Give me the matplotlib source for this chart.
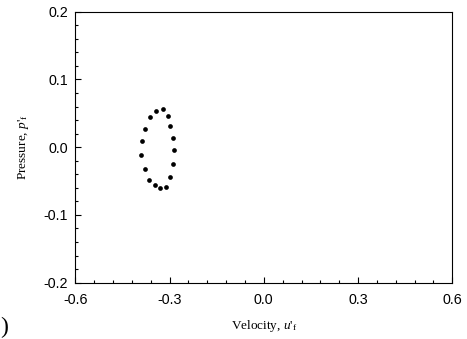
import matplotlib
matplotlib.use("Agg")
import matplotlib.pyplot as plt
from matplotlib.ticker import MultipleLocator

# phase portrait points
velocity = [-0.321, -0.343, -0.362, -0.377, -0.388, -0.392, -0.379, -0.366, -0.346,
            -0.329, -0.311, -0.298, -0.288, -0.287, -0.289, -0.297, -0.306]
pressure = [0.0568, 0.0534, 0.0445, 0.0263, 0.0086, -0.0121, -0.0327, -0.0490, -0.0558,
            -0.0608, -0.0588, -0.0440, -0.0248, -0.0042, 0.0135, 0.0308, 0.0455]

x_ticks = [-0.6, -0.3, 0.0, 0.3, 0.6]
y_ticks = [-0.2, -0.1, 0.0, 0.1, 0.2]

plt.rcParams['mathtext.fontset'] = 'custom'
plt.rcParams['mathtext.rm'] = 'Liberation Serif'
plt.rcParams['mathtext.it'] = 'Liberation Serif:italic'

fig = plt.figure(figsize=(4.67, 3.39), dpi=100)
ax = fig.add_axes([75.3 / 467, 1 - 282.7 / 339, 377 / 467, 271 / 339])

ax.plot(velocity, pressure, 'o', color='black', ms=3.4, mec='none')

ax.set_xlim(-0.6, 0.6)
ax.set_ylim(-0.2, 0.2)
ax.set_xticks(x_ticks)
ax.set_yticks(y_ticks)
ax.set_xticklabels(['%.1f' % v for v in x_ticks])
ax.set_yticklabels(['%.1f' % v for v in y_ticks])
ax.xaxis.set_minor_locator(MultipleLocator(0.06))
ax.yaxis.set_minor_locator(MultipleLocator(0.02))

for lab in ax.get_xticklabels() + ax.get_yticklabels():
    lab.set_fontfamily('Liberation Sans')
    lab.set_fontsize(10.3)

ax.tick_params(which='both', direction='in', top=False, right=False, width=0.8)
ax.tick_params(which='major', length=4)
ax.tick_params(which='minor', length=2)
ax.tick_params(axis='x', which='major', pad=7.5)
ax.tick_params(axis='y', which='major', pad=5)
for s in ax.spines.values():
    s.set_linewidth(0.8)

ax.set_xlabel("Velocity, $u$'$_{\\rm f}$", family='Liberation Serif', fontsize=9.5, labelpad=8)
ax.set_ylabel("Pressure, $p$'$_{\\rm f}$", family='Liberation Serif', fontsize=9.5, labelpad=9)

fig.text(0.0, 1 / 339, ')', family='Liberation Serif', fontsize=17, ha='left', va='bottom')

fig.savefig('out.png', dpi=100)
